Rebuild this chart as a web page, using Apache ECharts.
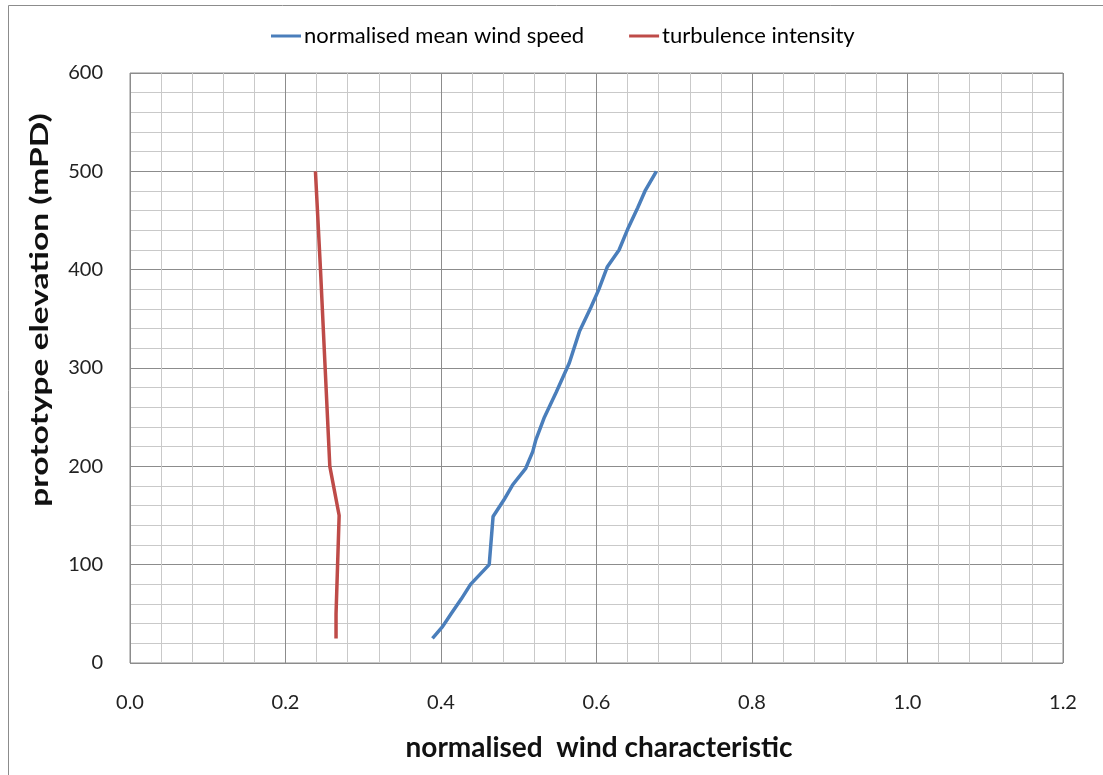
<!DOCTYPE html>
<html>
<head>
<meta charset="utf-8">
<script src="https://cdn.jsdelivr.net/npm/echarts@6/dist/echarts.min.js"></script>
<style>
html,body{margin:0;padding:0;background:#fff;}
#chart{width:1103px;height:775px;}
</style>
</head>
<body>
<div id="chart"></div>
<script>
// Data
const seriesNames = ['normalised mean wind speed', 'turbulence intensity'];
const speedElevation = [25, 37, 50, 65, 80, 100, 149, 166, 181, 198, 215, 227, 250, 275, 305, 337, 362, 380, 403, 420, 441, 463, 481, 500];
const speedValues    = [0.389, 0.402, 0.413, 0.426, 0.438, 0.462, 0.467, 0.481, 0.492, 0.509, 0.518, 0.522, 0.533, 0.548, 0.565, 0.578, 0.593, 0.603, 0.614, 0.629, 0.640, 0.653, 0.663, 0.677];
const tiElevation = [25, 50, 75, 100, 150, 200, 300, 400, 500];
const tiValues    = [0.265, 0.265, 0.266, 0.267, 0.269, 0.257, 0.251, 0.245, 0.2385];
const xTitle = 'normalised  wind characteristic';
const yTitle = 'prototype elevation (mPD)';

const FONT = 'Lato, "Open Sans", "Liberation Sans", sans-serif';
const chart = echarts.init(document.getElementById('chart'), null, {renderer: 'canvas'});
chart.setOption({
  animation: false,
  backgroundColor: '#fff',
  textStyle: {fontFamily: FONT},
  legend: {
    top: 20,
    left: 266,
    itemWidth: 30,
    itemHeight: 3,
    itemGap: 45,
    icon: 'rect',
    textStyle: {fontSize: 22, color: '#000', fontFamily: FONT, padding: [0, 0, 0, -2]},
    data: seriesNames
  },
  grid: {
    left: 130, right: 40, top: 73, bottom: 112,
    show: true, borderColor: '#8c8c8c', borderWidth: 1, containLabel: false
  },
  xAxis: {
    type: 'value', min: 0, max: 1.2, interval: 0.2,
    axisLine: {show: false}, axisTick: {show: false},
    axisLabel: {margin: 30, fontSize: 20, color: '#222', fontFamily: FONT,
      formatter: v => v.toFixed(1)},
    splitLine: {show: true, lineStyle: {color: '#8c8c8c', width: 1}},
    minorTick: {show: false, splitNumber: 5},
    minorSplitLine: {show: true, lineStyle: {color: '#c9c9c9', width: 1}}
  },
  yAxis: {
    type: 'value', min: 0, max: 600, interval: 100,
    axisLine: {show: false}, axisTick: {show: false},
    axisLabel: {margin: 27, fontSize: 20, color: '#222', fontFamily: FONT},
    splitLine: {show: true, lineStyle: {color: '#8c8c8c', width: 1}},
    minorTick: {show: false, splitNumber: 5},
    minorSplitLine: {show: true, lineStyle: {color: '#c9c9c9', width: 1}}
  },
  graphic: [
    {type: 'rect', z: -10, silent: true,
      shape: {x: 8.5, y: 5.5, width: 1120, height: 800},
      style: {fill: null, stroke: '#8c8c8c', lineWidth: 1}},
    {type: 'text', x: 599, y: 748,
      style: {text: xTitle, font: 'bold 28px ' + FONT, fill: '#111',
        textAlign: 'center', textVerticalAlign: 'middle'}},
    {type: 'text', x: 40, y: 310, rotation: Math.PI / 2, scaleX: 1.34,
      style: {text: yTitle, font: 'bold 25px ' + FONT, fill: '#111',
        textAlign: 'center', textVerticalAlign: 'middle'}}
  ],
  series: [
    {name: seriesNames[0], type: 'line', showSymbol: false, symbol: 'none',
      color: '#4a7ebb', lineStyle: {width: 3.5, color: '#4a7ebb'},
      data: speedValues.map((v, i) => [v, speedElevation[i]])},
    {name: seriesNames[1], type: 'line', showSymbol: false, symbol: 'none',
      color: '#be4b48', lineStyle: {width: 3.5, color: '#be4b48'},
      data: tiValues.map((v, i) => [v, tiElevation[i]])}
  ]
});
</script>
</body>
</html>
